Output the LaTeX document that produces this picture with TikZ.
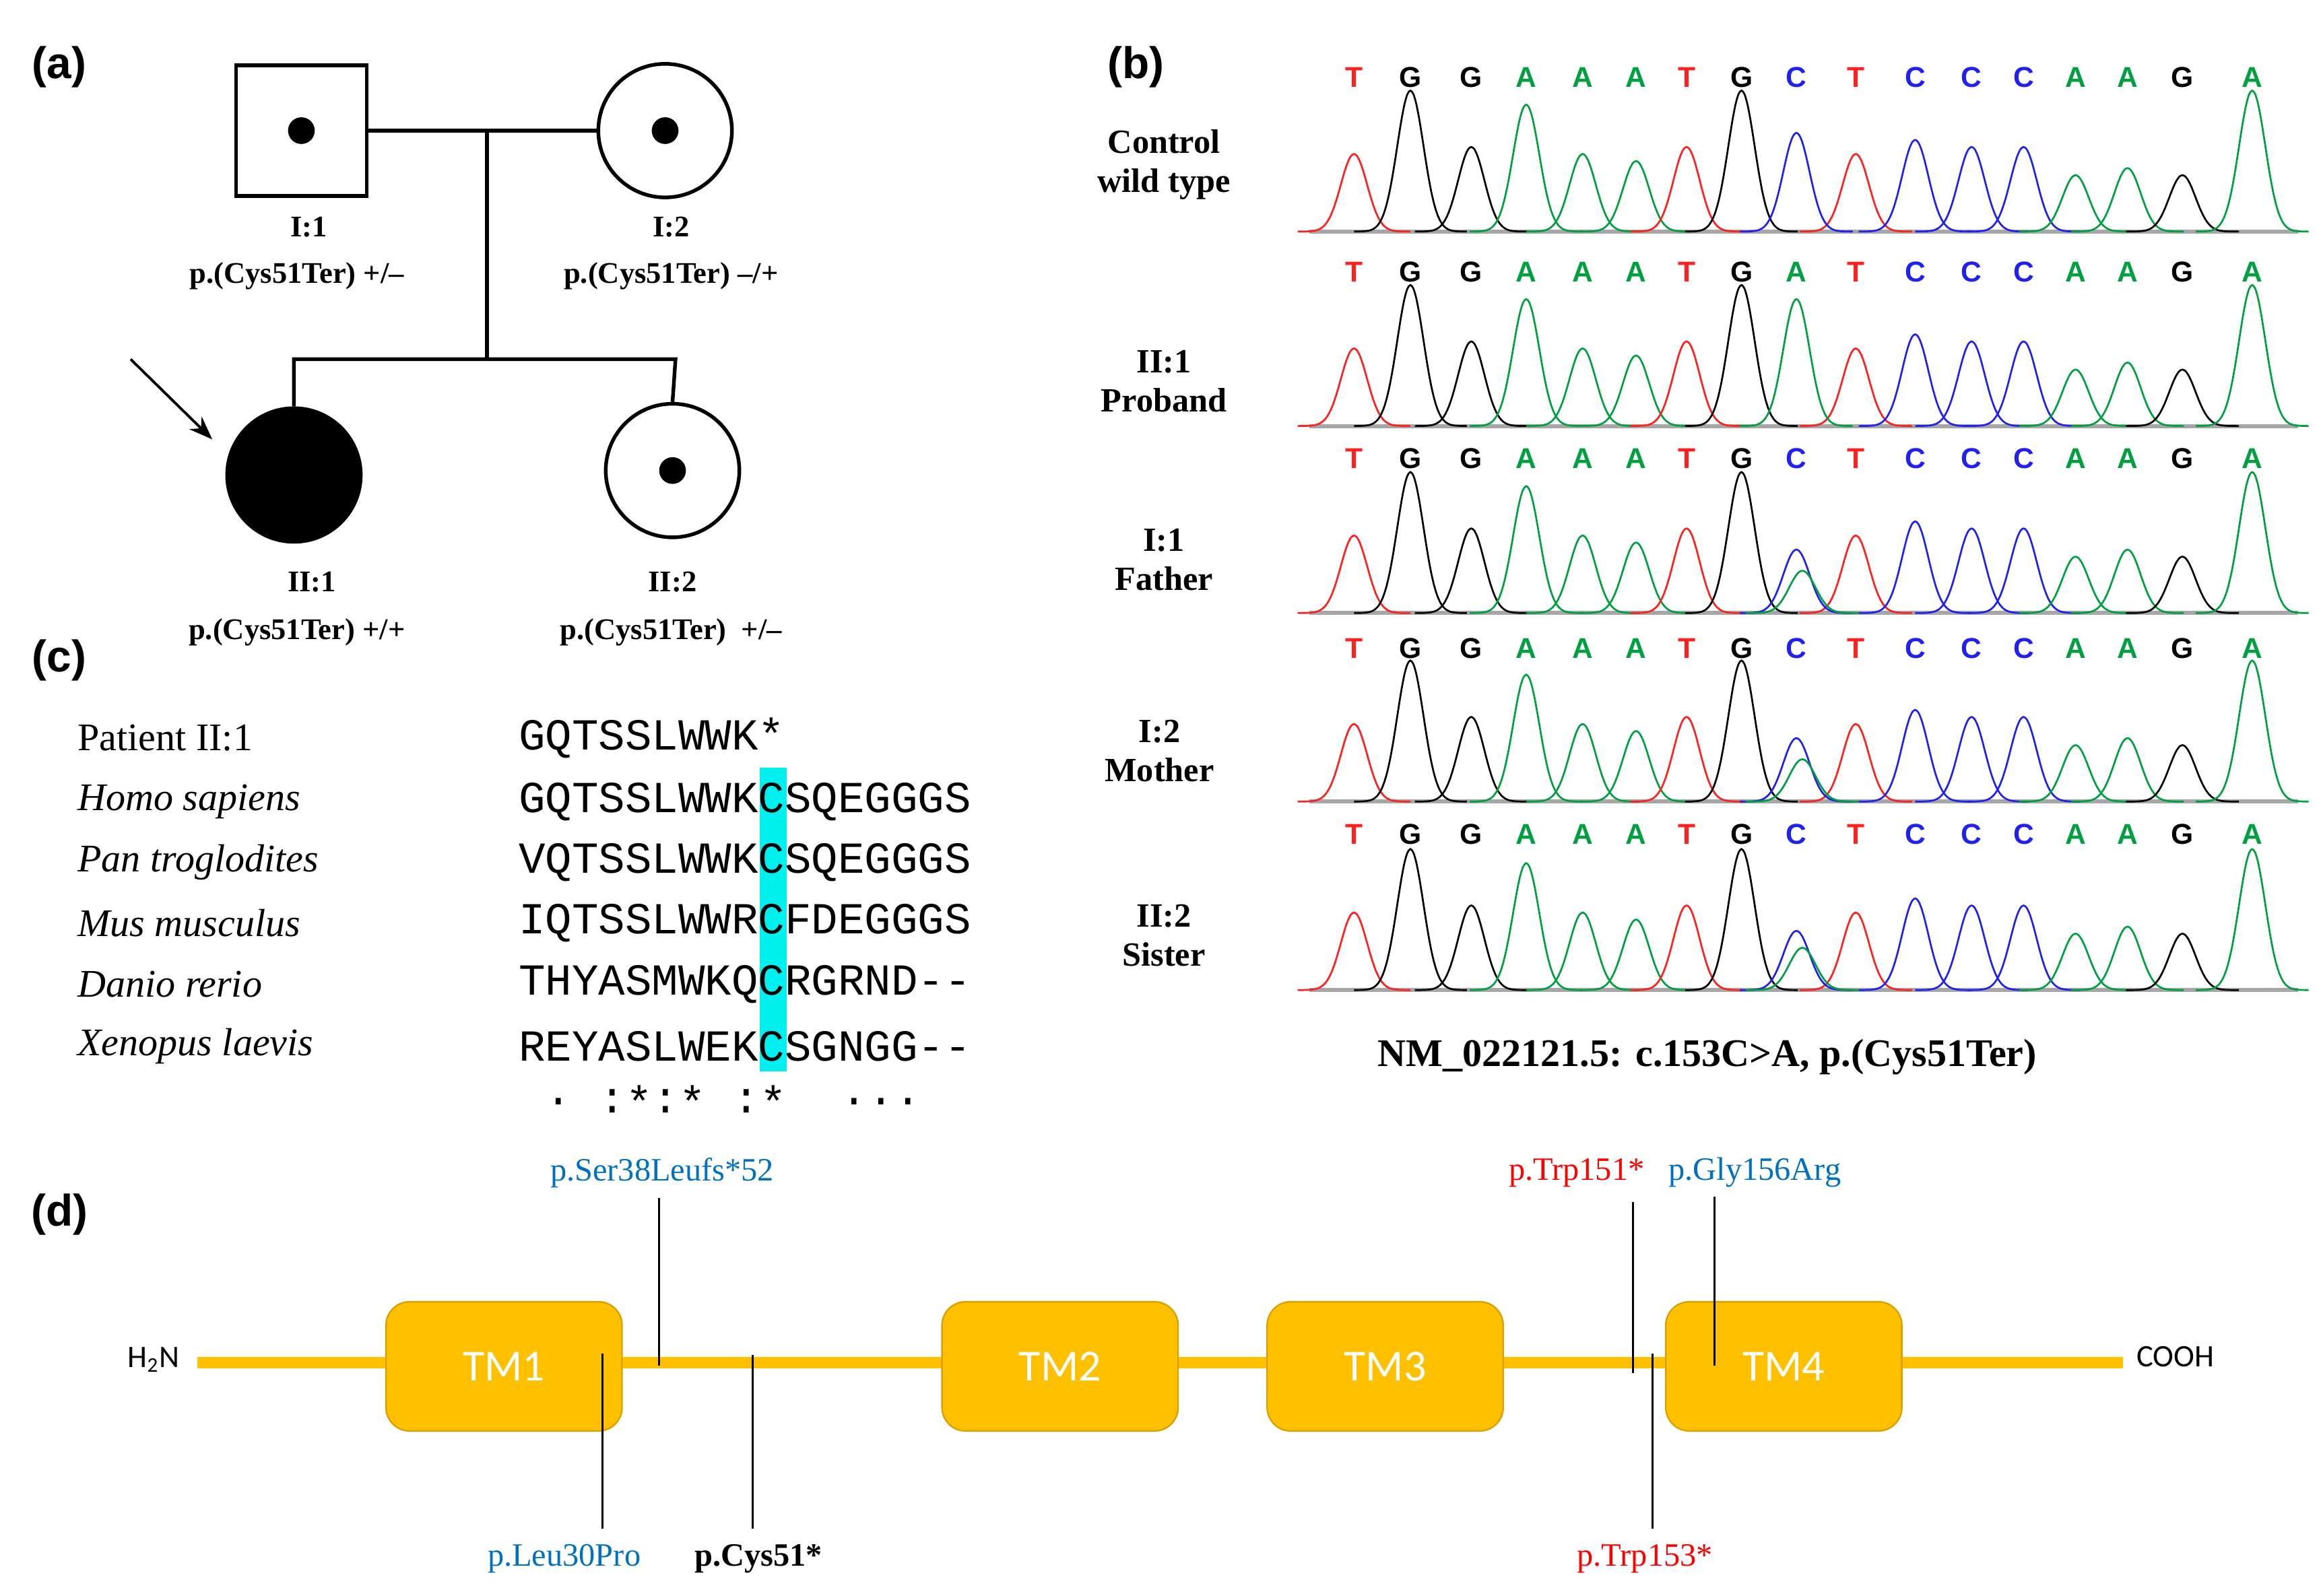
\documentclass[tikz,border=0pt]{standalone}
\usepackage{fontspec}
\usetikzlibrary{arrows.meta}
\setmainfont{Liberation Serif}
\newfontfamily\sansf{Liberation Sans}
\newfontfamily\calib{Carlito}
\newfontfamily\monof{Liberation Mono}
\definecolor{cT}{HTML}{FF2020}
\definecolor{cG}{HTML}{000000}
\definecolor{cA}{HTML}{00A040}
\definecolor{cC}{HTML}{2020F0}
\definecolor{tmfill}{HTML}{FFC000}
\definecolor{tmdraw}{HTML}{D9A000}
\definecolor{mblue}{HTML}{0070C0}
\definecolor{mred}{HTML}{FF0000}
\definecolor{hcyan}{HTML}{00F0F0}
\newcommand\pk[4]{%
  \pgfmathsetmacro\da{#2-38}\pgfmathsetmacro\db{#2+38}%
  \draw[#1,line width=0.7pt] plot[domain=\da:\db,samples=39,smooth] (\x,{#4-95*#3*exp(-((\x-#2)/12.5)^2)});}
\newcommand\trace[3]{%
  \draw[gray!70,line width=1.6pt] (882,#1) -- (1548,#1);
  \foreach \px/\h/\b in {912/.55/T,950/1/G,991/.6/G,1028/.9/A,1066/.55/A,1102/.5/A,1136/.6/T,1173/1/G,1250/.55/T,1290/.65/C,1328/.6/C,1363/.6/C,1398/.4/A,1433/.45/A,1470/.4/G,1517/1/A}{%
    \pk{c\b}{\px}{\h}{#1}
    \node[lett,text=c\b] at (\px,#2) {\b};}
  #3}
\tikzset{
  lett/.style={font=\sansf\bfseries\fontsize{11}{12}\selectfont,inner sep=0},
  plab/.style={font=\sansf\bfseries\fontsize{17}{18}\selectfont,inner sep=0},
  ped/.style={line width=1.4pt},
  pedt/.style={font=\bfseries\fontsize{11.5}{13}\selectfont,inner sep=0},
  rowl/.style={font=\bfseries\fontsize{13}{15}\selectfont,align=center,inner sep=0},
  sp/.style={font=\fontsize{15}{17}\selectfont,anchor=west,inner sep=0},
  sq/.style={font=\monof\fontsize{17}{19}\selectfont,anchor=west,inner sep=0},
  tm/.style={fill=tmfill,draw=tmdraw,line width=0.6pt,rounded corners=9pt,minimum width=159*0.02cm,minimum height=87*0.02cm,text=white,font=\calib\fontsize{17}{18}\selectfont},
  mut/.style={font=\fontsize{12.5}{14}\selectfont,inner sep=0},
  ml/.style={line width=0.8pt}
}
\begin{document}
\begin{tikzpicture}[x=0.02cm,y=-0.02cm]
\useasboundingbox (0,0) rectangle (1562,1075);
% panel labels
\node[plab] (la) at (40,45) {(a)};
\node[plab] (lb) at (765,45) {(b)};
\node[plab] (lc) at (40,445) {(c)};
\node[plab] (ld) at (40,818) {(d)};
% (a) pedigree
\node[ped,draw,minimum size=88*0.02cm,inner sep=0] (f) at (203,88) {};
\node[ped,draw,circle,minimum size=90*0.02cm,inner sep=0] (m) at (448,88) {};
\node[ped,draw,circle,fill=black,minimum size=90*0.02cm,inner sep=0] (p) at (198,320) {};
\node[ped,draw,circle,minimum size=90*0.02cm,inner sep=0] (s) at (453,317) {};
\fill (f.center) circle (9);
\fill (m.center) circle (9);
\fill (s.center) circle (9);
\draw[ped] (f.east) -- (m.west);
\coordinate (mid) at (328,88);
\coordinate (sib) at (328,242);
\draw[ped] (mid) -- (sib);
\draw[ped] (p.north) -- (198,242) -- (455,242) -- (s.north);
\coordinate (arrs) at (88,242);
\draw[line width=1pt,-{Stealth[length=9pt]}] (arrs) -- (143,296);
\node[pedt] (t1) at (208,153) {I:1};
\node[pedt] (t2) at (200,186) {p.(Cys51Ter) +/–};
\node[pedt] (t3) at (452,153) {I:2};
\node[pedt] (t4) at (452,186) {p.(Cys51Ter) –/+};
\node[pedt] (t5) at (210,392) {II:1};
\node[pedt] (t6) at (200,426) {p.(Cys51Ter) +/+};
\node[pedt] (t7) at (453,392) {II:2};
\node[pedt] (t8) at (452,426) {p.(Cys51Ter)\ \ +/–};
% (b) chromatograms
\node[rowl] (r1) at (784,111) {Control\\wild type};
\node[rowl] (r2) at (784,257) {II:1\\Proband};
\node[rowl] (r3) at (784,377) {I:1\\Father};
\node[rowl] (r4) at (781,506) {I:2\\Mother};
\node[rowl] (r5) at (784,630) {II:2\\Sister};
\trace{156}{52}{\pk{cC}{1210}{.7}{156}\node[lett,text=cC] at (1210,52) {C};}
\trace{287}{183}{\pk{cA}{1210}{.9}{287}\node[lett,text=cA] at (1210,183) {A};}
\trace{413}{309}{\pk{cC}{1210}{.45}{413}\pk{cA}{1214}{.3}{413}\node[lett,text=cC] at (1210,309) {C};}
\trace{540}{437}{\pk{cC}{1210}{.45}{540}\pk{cA}{1214}{.3}{540}\node[lett,text=cC] at (1210,437) {C};}
\trace{667}{562}{\pk{cC}{1210}{.42}{667}\pk{cA}{1214}{.3}{667}\node[lett,text=cC] at (1210,562) {C};}
\node[font=\bfseries\fontsize{15}{17}\selectfont] (cap) at (1150,712) {NM\_022121.5: c.153C>A, p.(Cys51Ter)};
% (c) alignment
\fill[hcyan] (349+9*18.1,517) rectangle (349+10*18.1,722);
\node[sp] (n1) at (52,497) {Patient II:1};
\node[sp] (n2) at (52,540) {\itshape Homo sapiens};
\node[sp] (n3) at (52,581) {\itshape Pan troglodites};
\node[sp] (n4) at (52,622) {\itshape Mus musculus};
\node[sp] (n5) at (52,663) {\itshape Danio rerio};
\node[sp] (n6) at (52,705) {\itshape Xenopus laevis};
\node[sq] (s1) at (349,497) {GQTSSLWWK*};
\node[sq] (s2) at (349,540) {GQTSSLWWKCSQEGGGS};
\node[sq] (s3) at (349,581) {VQTSSLWWKCSQEGGGS};
\node[sq] (s4) at (349,622) {IQTSSLWWRCFDEGGGS};
\node[sq] (s5) at (349,663) {THYASMWKQCRGRND--};
\node[sq] (s6) at (349,705) {REYASLWEKCSGNGG--};
\foreach \c/\i in {./1,:/3,*/4,:/5,*/6,:/8,*/9,./12,./13,./14}
  \node[font=\monof\fontsize{17}{19}\selectfont,inner sep=0] at (349+\i*18.1+9.05,742) {\c};
% (d) protein
\coordinate (nt) at (133,918);
\coordinate (ct) at (1430,918);
\draw[tmfill,line width=4.5pt] (nt) -- (ct);
\node[font=\calib\fontsize{12}{14}\selectfont,anchor=east] (h2n) at (127,916) {H\textsubscript{2}N};
\node[font=\calib\fontsize{12}{14}\selectfont,anchor=west] (cooh) at (1433,914) {COOH};
\node[tm] (tm1) at (339.5,920.5) {TM1};
\node[tm] (tm2) at (714,920.5) {TM2};
\node[tm] (tm3) at (933,920.5) {TM3};
\node[tm] (tm4) at (1201.5,920.5) {TM4};
\node[mut,text=mblue] (m1) at (446,790) {p.Ser38Leufs*52};
\node[mut,text=mblue] (m2) at (380,1050) {p.Leu30Pro};
\node[mut,font=\bfseries\fontsize{12.5}{14}\selectfont] (m3) at (511,1050) {p.Cys51*};
\node[mut,text=mred] (m4) at (1062,790) {p.Trp151*};
\node[mut,text=mblue] (m5) at (1182,790) {p.Gly156Arg};
\node[mut,text=mred] (m6) at (1108,1050) {p.Trp153*};
\draw[ml] (444,807) -- (444,920);
\draw[ml] (406,912) -- (406,1030);
\draw[ml] (507,913) -- (507,1030);
\draw[ml] (1100,810) -- (1100,925);
\draw[ml] (1155,806) -- (1155,920);
\draw[ml] (1113,912) -- (1113,1030);
\end{tikzpicture}
\end{document}
